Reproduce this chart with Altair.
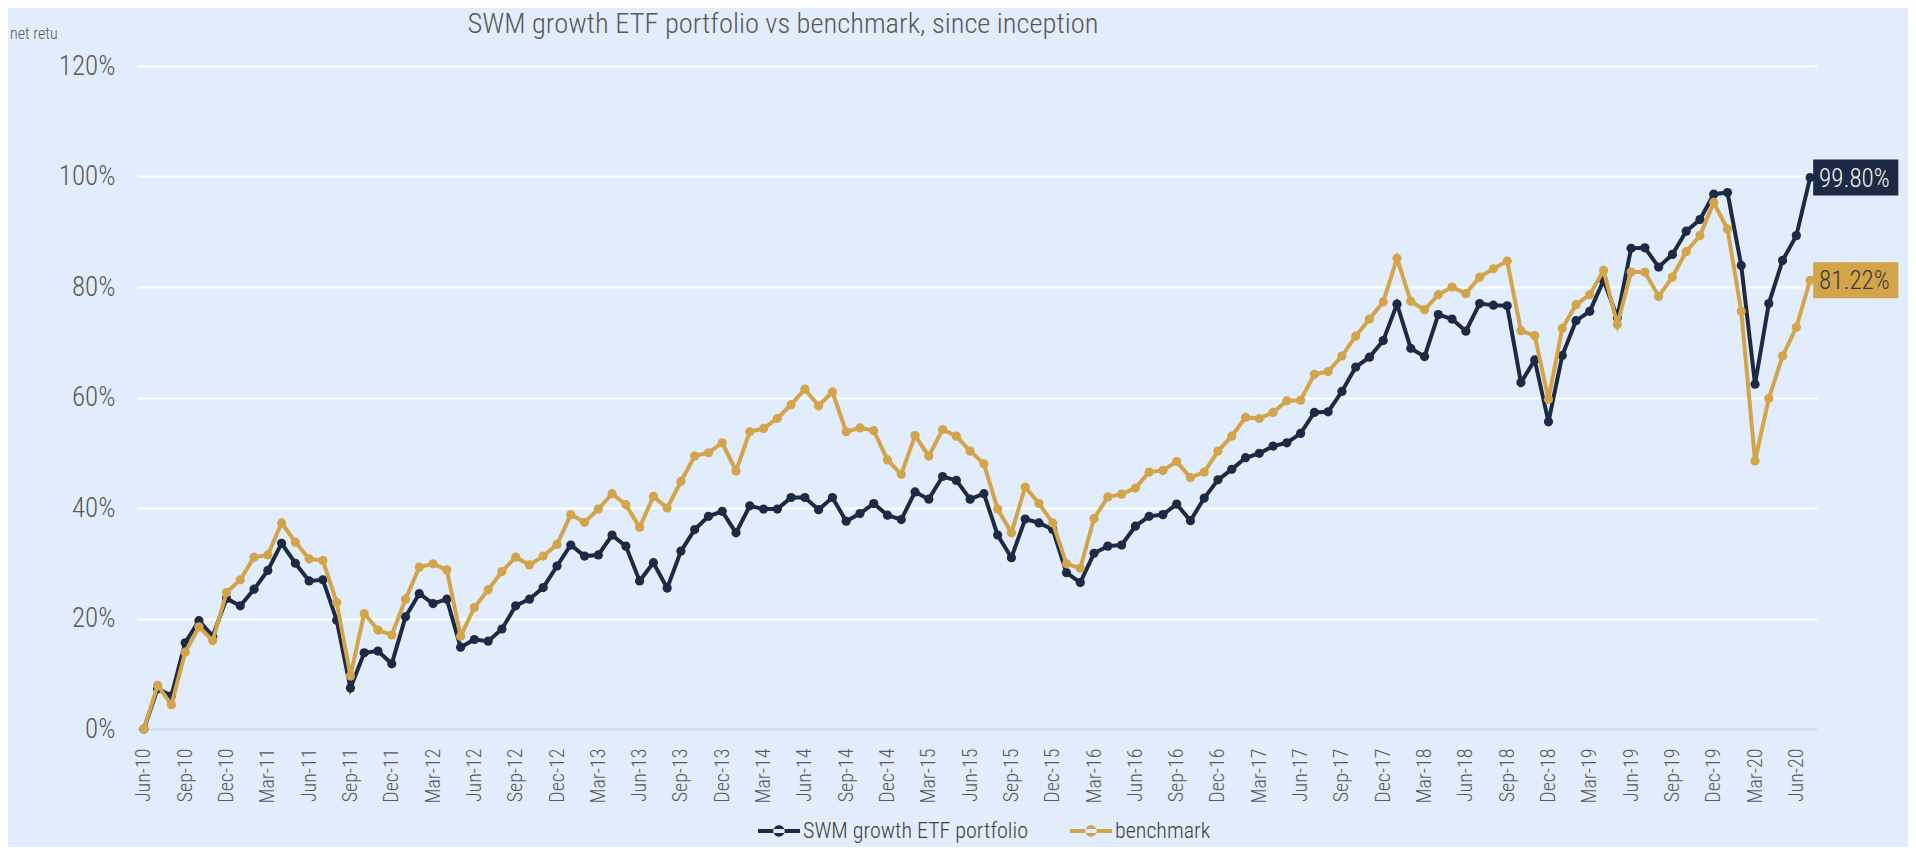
import altair as alt
import pandas as pd

# ---------------- data ----------------
months = pd.date_range("2010-06-01", "2020-07-01", freq="MS").strftime("%b-%y").tolist()

portfolio = [
    0.0, 7.3, 6.0, 15.6, 19.6, 16.8, 23.6, 22.3, 25.3, 28.7,
    33.6, 30.0, 26.8, 27.0, 19.7, 7.4, 13.8, 14.1, 11.8, 20.3,
    24.5, 22.7, 23.5, 14.8, 16.2, 15.9, 18.1, 22.3, 23.5, 25.6,
    29.5, 33.3, 31.3, 31.5, 35.1, 33.1, 26.8, 30.1, 25.5, 32.2,
    36.1, 38.5, 39.4, 35.5, 40.4, 39.8, 39.8, 41.9, 41.9, 39.7,
    41.9, 37.6, 39.0, 40.8, 38.7, 37.9, 42.9, 41.6, 45.7, 45.0,
    41.6, 42.6, 35.1, 31.0, 38.0, 37.3, 36.1, 28.3, 26.5, 31.8,
    33.1, 33.3, 36.7, 38.5, 38.8, 40.7, 37.7, 41.8, 45.1, 47.0,
    49.1, 49.9, 51.2, 51.8, 53.5, 57.3, 57.4, 61.1, 65.5, 67.3,
    70.3, 76.9, 68.9, 67.4, 75.0, 74.2, 72.0, 77.0, 76.7, 76.6,
    62.7, 66.8, 55.6, 67.6, 73.9, 75.6, 81.2, 74.5, 87.0, 87.1,
    83.6, 85.9, 90.1, 92.2, 96.8, 97.1, 83.9, 62.4, 77.0, 84.8,
    89.3, 99.80,
]

benchmark = [
    0.0, 7.9, 4.4, 13.9, 18.5, 16.0, 24.7, 27.0, 31.1, 31.5,
    37.3, 33.8, 30.8, 30.5, 22.9, 9.6, 20.9, 17.9, 17.0, 23.5,
    29.3, 29.9, 28.8, 16.8, 22.0, 25.2, 28.5, 31.1, 29.7, 31.3,
    33.4, 38.8, 37.4, 39.8, 42.6, 40.6, 36.5, 42.1, 40.0, 44.8,
    49.4, 50.0, 51.8, 46.7, 53.8, 54.4, 56.2, 58.7, 61.5, 58.5,
    61.0, 53.8, 54.5, 54.0, 48.7, 46.1, 53.1, 49.4, 54.2, 53.0,
    50.3, 48.0, 39.8, 35.5, 43.8, 40.8, 37.3, 29.9, 29.1, 38.1,
    42.0, 42.5, 43.6, 46.5, 46.8, 48.4, 45.5, 46.5, 50.3, 53.0,
    56.4, 56.2, 57.3, 59.4, 59.5, 64.2, 64.7, 67.5, 71.1, 74.2,
    77.3, 85.2, 77.4, 75.9, 78.6, 80.0, 78.8, 81.8, 83.3, 84.7,
    72.1, 71.2, 59.7, 72.5, 76.8, 78.6, 83.0, 73.2, 82.7, 82.7,
    78.3, 81.8, 86.4, 89.3, 95.3, 90.5, 75.6, 48.5, 59.8, 67.5,
    72.7, 81.22,
]

series_names = ["SWM growth ETF portfolio", "benchmark"]
tick_labels = months[::3]
y_ticks = [0, 20, 40, 60, 80, 100, 120]
title_text = "SWM growth ETF portfolio vs benchmark, since inception"
y_title_text = "net returns"

NAVY = "#1C2A45"
GOLD = "#D3A44A"
BG = "#E1EDFC"
FONT = "'Roboto Condensed', 'Liberation Sans Narrow', 'DejaVu Sans Condensed', 'Open Sans', sans-serif"
TXT = "#595959"

rows = []
for i, m in enumerate(months):
    rows.append({"month": m, "value": portfolio[i], "series": series_names[0], "i": i})
for i, m in enumerate(months):
    rows.append({"month": m, "value": benchmark[i], "series": series_names[1], "i": i})
df = pd.DataFrame(rows)

end_df = pd.DataFrame({
    "month": [months[-1], months[-1]],
    "value": [portfolio[-1], benchmark[-1]],
    "series": series_names,
    "label": [f"{portfolio[-1]:.2f}%", f"{benchmark[-1]:.2f}%"],
})

W, H = 1680, 663

x_enc = alt.X(
    "month:O",
    sort=months,
    scale=alt.Scale(type="point", padding=0.5),
    axis=alt.Axis(
        values=tick_labels,
        labelAngle=270,
        labelFont=FONT,
        labelFontSize=20,
        labelFontWeight=300,
        labelColor=TXT,
        labelPadding=19,
        ticks=False,
        domain=False,
        grid=False,
        title=None,
    ),
)
y_enc = alt.Y(
    "value:Q",
    scale=alt.Scale(domain=[0, 120], nice=False, zero=True),
    axis=alt.Axis(
        values=y_ticks,
        labelExpr="datum.value + '%'",
        labelFont=FONT,
        labelFontSize=27,
        labelFontWeight=300,
        labelColor=TXT,
        labelPadding=22,
        ticks=False,
        domain=False,
        gridColor={"condition": {"test": "datum.value === 0", "value": "#D2DDEB"}, "value": "#FFFFFF"},
        gridWidth=2,
        title=None,
    ),
)

color_scale = alt.Scale(domain=series_names, range=[NAVY, GOLD])
legend_shape = "M-1,-0.09 H1 V0.09 H-1 Z M-0.27,0 A0.27,0.27 0 1,0 0.27,0 A0.27,0.27 0 1,0 -0.27,0 Z"

base = alt.Chart(df).encode(x=x_enc, y=y_enc)

def series_layers(name, col):
    line = base.transform_filter(alt.datum.series == name).mark_line(
        strokeWidth=4, color=col
    )
    pts = base.transform_filter(alt.datum.series == name).mark_point(
        filled=True, size=85, opacity=1
    ).encode(
        color=alt.Color(
            "series:N",
            scale=color_scale,
            legend=alt.Legend(
                title=None,
                orient="none",
                legendX=621,
                legendY=744,
                padding=0,
                direction="horizontal",
                symbolType=legend_shape,
                symbolSize=1764,
                symbolStrokeWidth=0,
                symbolOpacity=1,
                labelFont=FONT,
                labelFontSize=22,
                labelFontWeight=300,
                labelColor="#404040",
                labelLimit=500,
                labelOffset=3,
                columnPadding=42,
            ),
        )
    )
    return line, pts

l1, p1 = series_layers(series_names[0], NAVY)
l2, p2 = series_layers(series_names[1], GOLD)

box_shape = "M0.17,-1 H4.9 V1 H0.17 Z"
end_base = alt.Chart(end_df).encode(x=alt.X("month:O", sort=months), y="value:Q")
boxes = end_base.mark_point(shape=box_shape, filled=True, size=1296, opacity=1).encode(
    color=alt.Color("series:N", scale=color_scale, legend=None)
)
txt_navy = end_base.transform_filter(alt.datum.series == series_names[0]).mark_text(
    align="left", baseline="middle", dx=9, dy=1, font=FONT, fontSize=25, fontWeight=300, color="#F2F2F2"
).encode(text="label:N")
txt_gold = end_base.transform_filter(alt.datum.series == series_names[1]).mark_text(
    align="left", baseline="middle", dx=9, dy=1, font=FONT, fontSize=25, fontWeight=300, color="#3A3A3A"
).encode(text="label:N")

title = alt.Chart(pd.DataFrame({"t": [title_text]})).mark_text(
    align="center", baseline="middle", font=FONT, fontSize=28.5, fontWeight=300, color=TXT
).encode(text="t:N", x=alt.value(646), y=alt.value(-42))

ytitle = alt.Chart(pd.DataFrame({"t": [y_title_text]})).mark_text(
    align="left", baseline="middle", font=FONT, fontSize=16, fontWeight=300, color=TXT,
    limit=50, ellipsis="\u200b"
).encode(text="t:N", x=alt.value(-127), y=alt.value(-32))

chart = alt.layer(
    l1, p1, l2, p2, boxes, txt_navy, txt_gold, title, ytitle
).resolve_scale(color="shared").properties(
    width=W,
    height=H,
    background=BG,
    autosize=alt.AutoSizeParams(type="none"),
    padding={"left": 129, "top": 58, "right": 91, "bottom": 118},
).configure_view(stroke=None)

chart.save("out.html", embed_options={"renderer": "svg", "actions": False})
